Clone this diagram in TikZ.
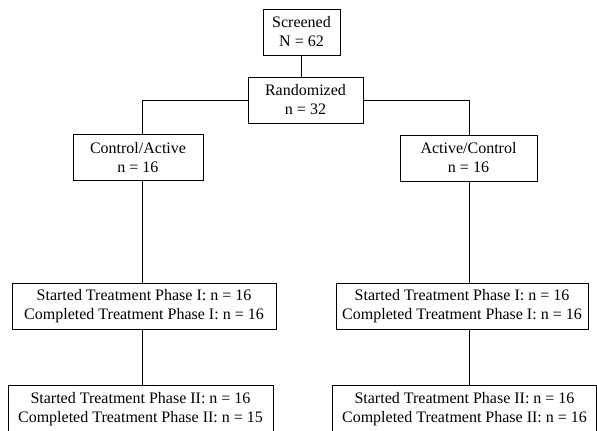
\documentclass[tikz,border=0pt]{standalone}
\usepackage{fontspec}
\setmainfont{Liberation Serif}
\usepackage{tikz}
\usetikzlibrary{positioning}
\tikzstyle{box} = [rectangle, draw=black, line width=0.9pt, align=center, minimum height=46pt, inner sep=0pt, font=\fontsize{16}{19}\selectfont]
\tikzstyle{line} = [line width=0.9pt]

\begin{document}
\begin{tikzpicture}[x=1pt, y=1pt]
    \useasboundingbox (0,0) rectangle (597,-431);
    \coordinate (lcol) at (142,0);
    \coordinate (rcol) at (469,0);
    \coordinate (mcol) at (301.5,0);
    \node(screened)[box, minimum width=77pt] at (301.5,-32) {Screened\\N = 62};
    \node(rand)[box, minimum width=115pt] at (305.5,-100) {Randomized\\n = 32};
    \node(ctrl)[box, minimum width=130pt] at (138,-157.5) {Control/Active\\n = 16};
    \node(act)[box, minimum width=137pt] at (468.5,-158) {Active/Control\\n = 16};
    \node(pIl)[box, minimum width=264pt] at (144,-306.5) {Started Treatment Phase I: n = 16\\Completed Treatment Phase I: n = 16};
    \node(pIr)[box, minimum width=252pt] at (462,-306.5) {Started Treatment Phase I: n = 16\\Completed Treatment Phase I: n = 16};
    \node(pIIl)[box, minimum width=265pt, minimum height=48pt] at (140.5,-409.5) {Started Treatment Phase II: n = 16\\Completed Treatment Phase II: n = 15};
    \node(pIIr)[box, minimum width=264pt, minimum height=48pt] at (464.5,-409.5) {Started Treatment Phase II: n = 16\\Completed Treatment Phase II: n = 16};
    \draw[line](screened.south -| mcol)--(rand.north -| mcol);
    \draw[line](rand.west)-|(ctrl.north -| lcol);
    \draw[line](rand.east)-|(act.north -| rcol);
    \draw[line](ctrl.south -| lcol)--(pIl.north -| lcol);
    \draw[line](pIl.south -| lcol)--(pIIl.north -| lcol);
    \draw[line](act.south -| rcol)--(pIr.north -| rcol);
    \draw[line](pIr.south -| rcol)--(pIIr.north -| rcol);
  \end{tikzpicture}
\end{document}
